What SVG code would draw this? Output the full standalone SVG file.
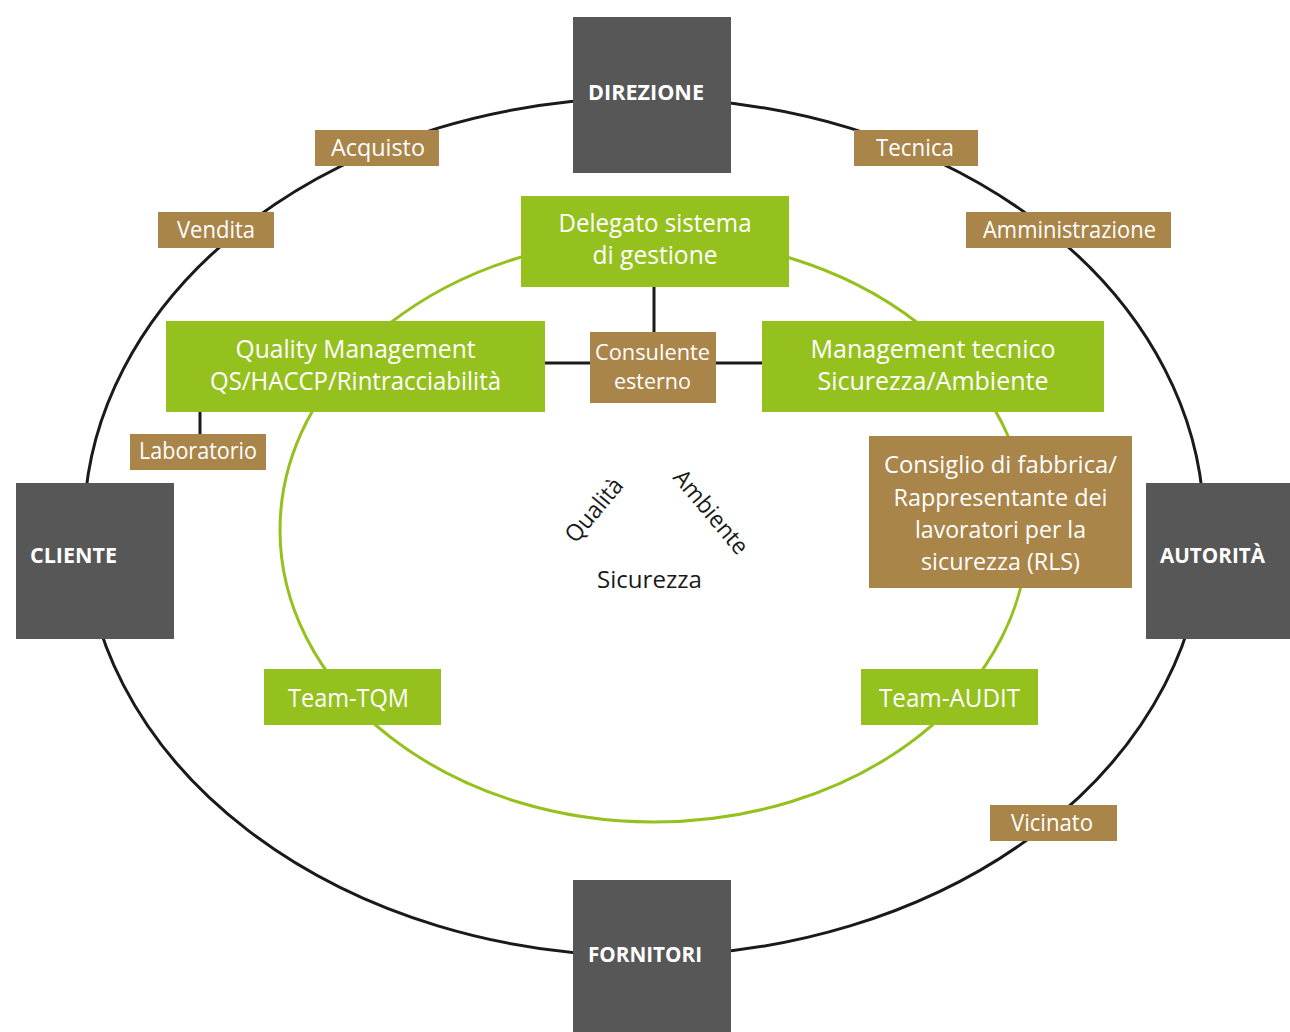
<svg xmlns="http://www.w3.org/2000/svg" width="1290" height="1032" viewBox="0 0 1290 1032">
<style>
.dark{fill:#575757}
.brown{fill:#a9854a}
.green{fill:#95c11f}
.t{font-family:"Open Sans","Liberation Sans",sans-serif;fill:#ffffff;text-anchor:middle}
.b{font-weight:bold;font-size:22px}
.s{font-size:23px}
.sm{font-size:21px}
.g{font-size:25px}
.c{font-family:"Open Sans","Liberation Sans",sans-serif;fill:#1a1a1a;text-anchor:middle;font-size:23.5px}
.ring{fill:none;stroke-width:3}
.link{stroke:#1a1a1a;stroke-width:3;fill:none}
</style>
<rect width="1290" height="1032" fill="#ffffff"/>
<g id="rings">
<ellipse class="ring" cx="644" cy="527" rx="560" ry="429" stroke="#1a1a1a"/>
<ellipse class="ring" cx="654" cy="530" rx="374" ry="292" stroke="#95c11f"/>
</g>
<g id="connectors">
<line class="link" x1="654" y1="287" x2="654" y2="332"/>
<line class="link" x1="545" y1="363" x2="590" y2="363"/>
<line class="link" x1="716" y1="363" x2="762" y2="363"/>
<line class="link" x1="200" y1="412" x2="200" y2="434"/>
</g>
<g id="direzione"><rect class="dark" x="573" y="17" width="158" height="156"/><text class="t b" x="646" y="100" textLength="116" lengthAdjust="spacingAndGlyphs">DIREZIONE</text></g>
<g id="cliente"><rect class="dark" x="16" y="483" width="158" height="156"/><text class="t b" x="73.5" y="563" textLength="87" lengthAdjust="spacingAndGlyphs">CLIENTE</text></g>
<g id="autorita"><rect class="dark" x="1146" y="483" width="144" height="156"/><text class="t b" x="1212.5" y="563" textLength="105" lengthAdjust="spacingAndGlyphs">AUTORITÀ</text></g>
<g id="fornitori"><rect class="dark" x="573" y="880" width="158" height="152"/><text class="t b" x="645" y="962" textLength="114" lengthAdjust="spacingAndGlyphs">FORNITORI</text></g>
<g id="acquisto"><rect class="brown" x="315" y="130" width="124" height="36"/><text class="t s" x="378" y="156" textLength="94" lengthAdjust="spacingAndGlyphs">Acquisto</text></g>
<g id="vendita"><rect class="brown" x="158" y="212" width="116" height="36"/><text class="t s" x="216" y="238" textLength="78" lengthAdjust="spacingAndGlyphs">Vendita</text></g>
<g id="tecnica"><rect class="brown" x="854" y="130" width="124" height="36"/><text class="t s" x="915" y="156" textLength="78" lengthAdjust="spacingAndGlyphs">Tecnica</text></g>
<g id="amministrazione"><rect class="brown" x="966" y="212" width="205" height="36"/><text class="t s" x="1069.5" y="238" textLength="173" lengthAdjust="spacingAndGlyphs">Amministrazione</text></g>
<g id="laboratorio"><rect class="brown" x="130" y="434" width="136" height="36"/><text class="t s" x="198" y="459" textLength="118" lengthAdjust="spacingAndGlyphs">Laboratorio</text></g>
<g id="vicinato"><rect class="brown" x="990" y="805" width="127" height="36"/><text class="t s" x="1052" y="831" textLength="82" lengthAdjust="spacingAndGlyphs">Vicinato</text></g>
<g id="consulente"><rect class="brown" x="590" y="332" width="126" height="71"/><text class="t sm" x="652.5" y="360" textLength="115" lengthAdjust="spacingAndGlyphs">Consulente</text><text class="t sm" x="652.5" y="389" textLength="77" lengthAdjust="spacingAndGlyphs">esterno</text></g>
<g id="consiglio"><rect class="brown" x="869" y="436" width="263" height="152"/>
<text class="t s" x="1000.5" y="473" textLength="233" lengthAdjust="spacingAndGlyphs">Consiglio di fabbrica/</text>
<text class="t s" x="1000.5" y="506" textLength="214" lengthAdjust="spacingAndGlyphs">Rappresentante dei</text>
<text class="t s" x="1000.5" y="538" textLength="171" lengthAdjust="spacingAndGlyphs">lavoratori per la</text>
<text class="t s" x="1000.5" y="570" textLength="159" lengthAdjust="spacingAndGlyphs">sicurezza (RLS)</text></g>
<g id="delegato"><rect class="green" x="521" y="196" width="268" height="91"/><text class="t g" x="655" y="232" textLength="193" lengthAdjust="spacingAndGlyphs">Delegato sistema</text><text class="t g" x="655" y="264" textLength="125" lengthAdjust="spacingAndGlyphs">di gestione</text></g>
<g id="quality"><rect class="green" x="166" y="321" width="379" height="91"/><text class="t g" x="355.5" y="358" textLength="240" lengthAdjust="spacingAndGlyphs">Quality Management</text><text class="t g" x="355.5" y="390" textLength="291" lengthAdjust="spacingAndGlyphs">QS/HACCP/Rintracciabilità</text></g>
<g id="management"><rect class="green" x="762" y="321" width="342" height="91"/><text class="t g" x="933" y="358" textLength="245" lengthAdjust="spacingAndGlyphs">Management tecnico</text><text class="t g" x="933" y="390" textLength="231" lengthAdjust="spacingAndGlyphs">Sicurezza/Ambiente</text></g>
<g id="team-tqm"><rect class="green" x="264" y="669" width="177" height="56"/><text class="t g" x="348.5" y="707" textLength="121" lengthAdjust="spacingAndGlyphs">Team-TQM</text></g>
<g id="team-audit"><rect class="green" x="861" y="669" width="177" height="56"/><text class="t g" x="949.5" y="707" textLength="141" lengthAdjust="spacingAndGlyphs">Team-AUDIT</text></g>
<g id="center-labels">
<text class="c" transform="translate(594,510) rotate(-50)" x="0" y="8" textLength="76" lengthAdjust="spacingAndGlyphs">Qualità</text>
<text class="c" transform="translate(711,512) rotate(50)" x="0" y="8" textLength="102" lengthAdjust="spacingAndGlyphs">Ambiente</text>
<text class="c" x="649.5" y="588" textLength="105" lengthAdjust="spacingAndGlyphs">Sicurezza</text>
</g>
</svg>
